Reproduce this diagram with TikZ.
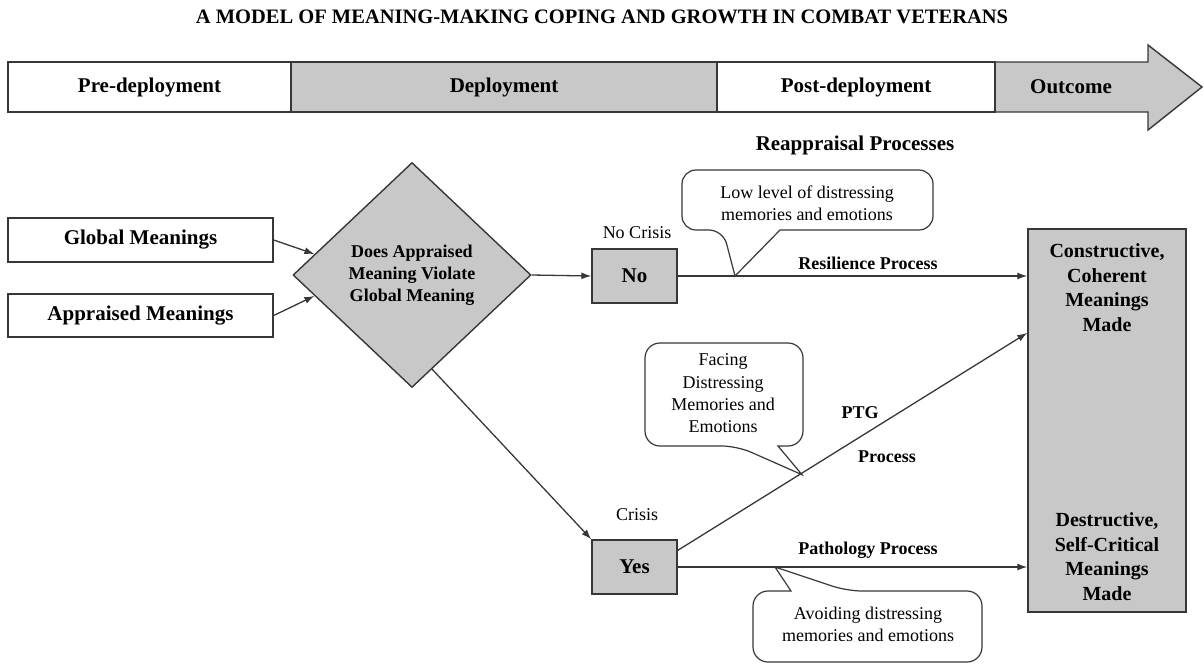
\documentclass[tikz,border=0pt]{standalone}
\usepackage{fontspec}
\setmainfont{Liberation Serif}
\usetikzlibrary{shapes.geometric,arrows.meta,calc}
\definecolor{boxgray}{RGB}{200,200,200}
\definecolor{edge}{RGB}{55,55,55}

\tikzset{
  big/.style={font=\fontsize{21}{24}\selectfont\bfseries},
  mid/.style={font=\fontsize{18}{22}\selectfont\bfseries},
  plain/.style={font=\fontsize{18}{22.3}\selectfont},
  box/.style={draw=edge, line width=1.4pt, inner sep=0pt},
  flow/.style={draw=edge, line width=1.3pt, -{Latex[length=10pt,width=7pt]}},
  callout/.style={draw=edge, line width=1.2pt, fill=white},
}

\begin{document}
\begin{tikzpicture}[x=1pt,y=-1pt]
\useasboundingbox (0,0) rectangle (1204,665);

% title
\node[font=\fontsize{20.5}{24}\selectfont\bfseries] (title) at (602,17)
  {A MODEL OF MEANING-MAKING COPING AND GROWTH IN COMBAT VETERANS};

% timeline arrow
\draw[box, fill=boxgray] (995,62) -- (1148,62) -- (1148,45) -- (1202,87)
  -- (1148,130) -- (1148,112) -- (995,112) -- cycle;
\node[box, fill=white, minimum width=283pt, minimum height=50pt, big] (pre) at (149.5,87) {Pre-deployment};
\node[box, fill=boxgray, minimum width=426pt, minimum height=50pt, big] (dep) at (504,87) {Deployment};
\node[box, fill=white, minimum width=278pt, minimum height=50pt, big] (post) at (856,87) {Post-deployment};
\node[big] (outc) at (1071,87) {Outcome};

% inputs and decision
\node[box, fill=white, minimum width=265pt, minimum height=44pt, big] (glob) at (140.5,240) {Global Meanings};
\node[box, fill=white, minimum width=265pt, minimum height=43pt, big] (appr) at (140.5,315.5) {Appraised Meanings};
\node[diamond, box, fill=boxgray, minimum width=238pt, minimum height=225pt, align=center,
      font=\fontsize{18}{22}\selectfont\bfseries] (dia) at (412,275)
  {Does Appraised\\Meaning Violate\\Global Meaning};

\node[box, fill=boxgray, minimum width=85pt, minimum height=54pt, big] (no) at (634.5,276) {No};
\node[box, fill=boxgray, minimum width=85pt, minimum height=54pt, big] (yes) at (634.5,567) {Yes};
\node[box, fill=boxgray, minimum width=158pt, minimum height=383pt] (out) at (1107,420.5) {};

\node[font=\fontsize{20}{24.5}\selectfont\bfseries, align=center] (cons) at (1107,287.5)
  {Constructive,\\Coherent\\Meanings\\Made};
\node[font=\fontsize{20}{24.5}\selectfont\bfseries, align=center] (dest) at (1107,556.5)
  {Destructive,\\Self-Critical\\Meanings\\Made};

% connectors
\draw[flow] (glob.east) -- ($(dia.west)!0.185!(dia.north)$);
\draw[flow] (appr.east) -- ($(dia.west)!0.185!(dia.south)$);
\draw[flow] (dia.east) -- (no.west);
\draw[flow] ($(dia.south)!0.168!(dia.east)$) -- (yes.north west);
\draw[flow] (no.east) -- (no.east -| out.west);
\draw[flow] ($(yes.north east)!0.2!(yes.south east)$) -- ($(out.north west)!0.272!(out.south west)$);
\draw[flow] (yes.east) -- (yes.east -| out.west);

% labels
\node[big] (reap) at (855,145) {Reappraisal Processes};
\node[plain] (nocr) at (637,233) {No Crisis};
\node[plain] (cr) at (637,515) {Crisis};
\node[mid] (resl) at (868,263) {Resilience Process};
\node[mid] (ptg) at (860,413) {PTG};
\node[mid] (proc) at (887,457) {Process};
\node[mid] (path) at (868,550) {Pathology Process};

% speech bubbles
\coordinate (tipA) at (735,276);
\coordinate (tipB) at (802,474.7);
\coordinate (tipC) at (775,567);

\draw[callout] (723,230) -- (tipA) -- (780,230) [rounded corners=14pt] -- (933,230)
  -- (933,170) -- (682,170) -- (682,230) -- cycle;
\node[plain, align=center] (lowtxt) at (807,203.5) {Low level of distressing\\memories and emotions};

\draw[callout] (737,446) -- (tipB) -- (778,446) [rounded corners=15pt] -- (803,446)
  -- (803,343) -- (645,343) -- (645,446) -- cycle;
\node[plain, align=center] (factxt) at (723,393.5) {Facing\\Distressing\\Memories and\\Emotions};

\draw[callout] (847,591) -- (tipC) -- (791,591) [rounded corners=15pt] -- (753,591)
  -- (753,662) -- (982,662) -- (982,591) -- cycle;
\node[plain, align=center] (avtxt) at (868,624) {Avoiding distressing\\memories and emotions};
\end{tikzpicture}
\end{document}
